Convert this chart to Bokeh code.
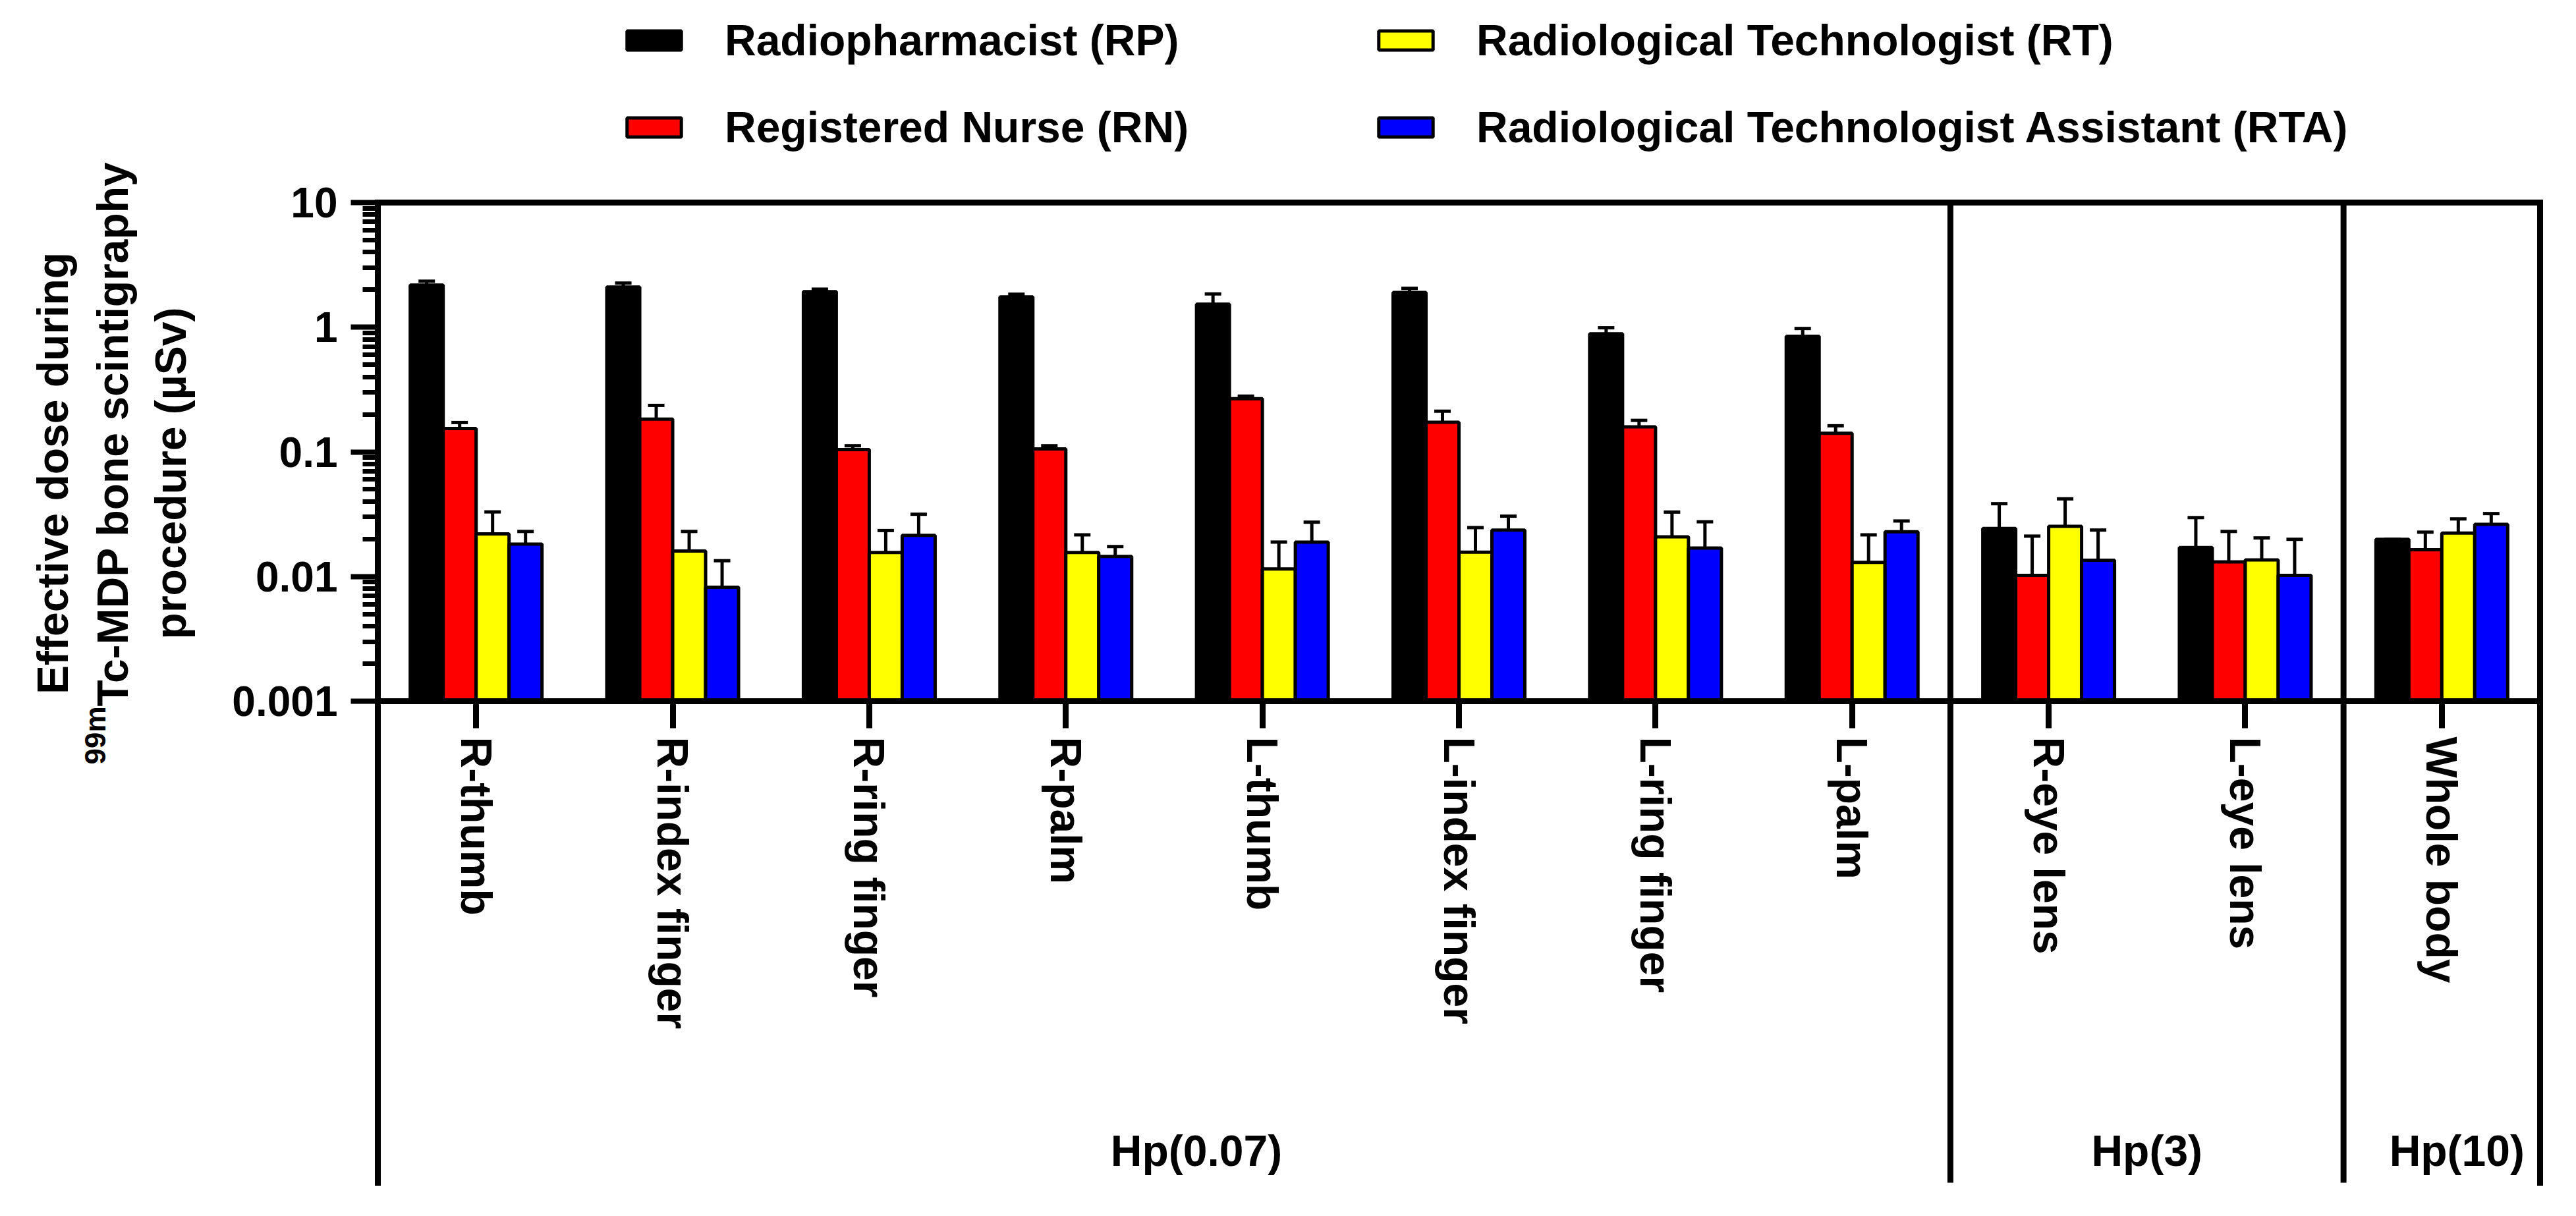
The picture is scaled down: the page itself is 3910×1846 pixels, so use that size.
import numpy as np
from bokeh.plotting import figure
from bokeh.models import (ColumnDataSource, Range1d, LinearAxis, LogAxis, FixedTicker,
                          Whisker, TeeHead, Legend, LegendItem, Label)
from bokeh.core.properties import value
from bokeh.transform import dodge
from bokeh.embed import file_html
from bokeh.resources import INLINE

# ---------------- data ----------------
categories = ["R-thumb", "R-index finger", "R-ring finger", "R-palm", "L-thumb",
              "L-index finger", "L-ring finger", "L-palm", "R-eye lens", "L-eye lens",
              "Whole body"]
groups = ["Hp(0.07)", "Hp(3)", "Hp(10)"]
group_sizes = [8, 2, 1]

series_names = ["Radiopharmacist (RP)", "Registered Nurse (RN)",
                "Radiological Technologist (RT)", "Radiological Technologist Assistant (RTA)"]
series_keys = ["rp", "rn", "rt", "rta"]
series_colors = ["#000000", "#FF0000", "#FFFF00", "#0000FF"]

rp     = [2.18, 2.10, 1.93, 1.75, 1.53, 1.90, 0.885, 0.845, 0.0243, 0.0171, 0.0199]
rp_hi  = [2.34, 2.26, 2.02, 1.84, 1.85, 2.05, 0.99, 0.977, 0.0384, 0.0297, 0.0199]
rn     = [0.154, 0.183, 0.1045, 0.1057, 0.267, 0.173, 0.159, 0.141, 0.0102, 0.0131, 0.0164]
rn_hi  = [0.172, 0.236, 0.112, 0.112, 0.28, 0.212, 0.179, 0.162, 0.0211, 0.023, 0.0227]
rt     = [0.022, 0.016, 0.0156, 0.0156, 0.0115, 0.0157, 0.0208, 0.013, 0.0253, 0.0136, 0.0223]
rt_hi  = [0.033, 0.023, 0.0234, 0.0216, 0.0189, 0.0247, 0.0329, 0.0216, 0.042, 0.0204, 0.029]
rta    = [0.0182, 0.0082, 0.0214, 0.0145, 0.0189, 0.0236, 0.0169, 0.0229, 0.0135, 0.0102, 0.0262]
rta_hi = [0.023, 0.0134, 0.0316, 0.0174, 0.0273, 0.0305, 0.0275, 0.0279, 0.0236, 0.0199, 0.032]

y_ticks = [0.001, 0.01, 0.1, 1, 10]
y_tick_labels = ["0.001", "0.01", "0.1", "1", "10"]
y_label_lines = ["Effective dose during", "Tc-MDP bone scintigraphy", "procedure (µSv)"]
y_label_sup = "99m"

# ---------------- layout (page pixels) ----------------
W, H, M = 3894, 1830, 8
PL, PR, PT, PA, PB = 581, 3863, 315, 1072, 1803   # left, right, top, x-axis, bracket bottom
n = len(categories)
cw = (PR - PL) / n
lo_dec, hi_dec = np.log10(y_ticks[0]), np.log10(y_ticks[-1])
dec_px = (PA - PT) / (hi_dec - lo_dec)

def xd(px):
    return (px - PL) / cw

def yd(py):
    return 10 ** (hi_dec - (py - PT) / dec_px)

FONT = "Liberation Sans"
FS = "66px"
LW_FRAME = 9

xc = list(np.arange(n) + 0.5)
src = ColumnDataSource(dict(xc=xc, cat=categories, rp=rp, rp_hi=rp_hi, rn=rn, rn_hi=rn_hi,
                            rt=rt, rt_hi=rt_hi, rta=rta, rta_hi=rta_hi))

p = figure(width=W, height=H, x_range=Range1d(xd(M), xd(M + W)),
           y_range=Range1d(yd(M + H), yd(M)), y_axis_type="log",
           x_axis_location=None, y_axis_location=None,
           output_backend="svg", toolbar_location=None, min_border=0)
p.outline_line_color = None
p.grid.visible = False
p.background_fill_color = "white"
p.border_fill_color = "white"

y_bottom_line = yd(PB)

# bars + error bars
bw = 50 / cw
offsets = [(i - 1.5) * bw for i in range(4)]
renderers = []
for key, col, off in zip(series_keys, series_colors, offsets):
    r = p.vbar(x=dodge("xc", off), top=key, bottom=y_ticks[0], width=bw,
               source=src, fill_color=col, line_color="black", line_width=5)
    renderers.append(r)
    p.add_layout(Whisker(source=src, base=dodge("xc", off), lower=key, upper=key + "_hi",
                         dimension="height", line_color="black", line_width=5,
                         upper_head=TeeHead(size=25, line_width=5, line_color="black"),
                         lower_head=None))

# group separators
bounds = np.cumsum(group_sizes).astype(float)
p.segment(x0=list(bounds[:-1]), x1=list(bounds[:-1]), y0=y_bottom_line, y1=y_ticks[-1],
          line_color="black", line_width=LW_FRAME)

# y axis at the left edge of the chart
ya = LogAxis(fixed_location=0.0, bounds=(y_bottom_line, y_ticks[-1]))
ya.ticker = FixedTicker(ticks=y_ticks,
                        minor_ticks=[m * 10.0 ** e for e in range(-3, 1) for m in range(2, 10)])
ya.major_label_overrides = dict(zip(y_ticks, y_tick_labels))
ya.axis_line_width = LW_FRAME
ya.axis_line_cap = "square"
ya.major_tick_line_width = 8
ya.minor_tick_line_width = 7
ya.major_tick_out = 41
ya.major_tick_in = 0
ya.minor_tick_out = 23
ya.minor_tick_in = 0
ya.major_label_standoff = 20
ya.major_label_text_font = FONT
ya.major_label_text_font_style = "bold"
ya.major_label_text_font_size = "64px"
ya.major_label_text_color = "black"
p.add_layout(ya, "left")

# x axis at y = 0.001
xa = LinearAxis(fixed_location=y_ticks[0], bounds=(0, n))
xa.ticker = FixedTicker(ticks=xc, minor_ticks=[])
xa.major_label_overrides = dict(zip(xc, categories))
xa.axis_line_width = LW_FRAME
xa.major_tick_line_width = 9
xa.major_tick_out = 41
xa.major_tick_in = 0
xa.minor_tick_line_color = None
xa.major_label_orientation = "vertical"
xa.major_label_standoff = 13
xa.major_label_text_font = FONT
xa.major_label_text_font_style = "bold"
xa.major_label_text_font_size = FS
xa.major_label_text_color = "black"
p.add_layout(xa, "below")

# top and right frame lines
ta = LinearAxis(fixed_location=y_ticks[-1], bounds=(0, n), ticker=FixedTicker(ticks=[]),
                major_tick_line_color=None, minor_tick_line_color=None,
                axis_line_width=LW_FRAME, axis_line_cap="square")
p.add_layout(ta, "above")
ra = LogAxis(fixed_location=float(n), bounds=(y_bottom_line, y_ticks[-1]),
             ticker=FixedTicker(ticks=[]), major_tick_line_color=None,
             minor_tick_line_color=None, axis_line_width=LW_FRAME, axis_line_cap="square")
p.add_layout(ra, "right")

# group labels
starts = np.concatenate([[0.0], bounds[:-1]])
centers = list(starts + np.array(group_sizes) / 2.0)
group_dx = [49, 0, 23]
gsrc = ColumnDataSource(dict(x=centers, y=[yd(1754)] * len(groups), text=groups, dx=group_dx))
p.text(x="x", y="y", text="text", x_offset="dx", source=gsrc, text_align="center",
       text_baseline="alphabetic", text_font=value(FONT), text_font_style="bold",
       text_font_size=FS, text_color="black")

# y axis title (three lines, the second one with a superscript)
def sx(px):
    return px - M

def sy(py):
    return (M + H) - py

common = dict(x_units="screen", y_units="screen", angle=np.pi / 2, text_baseline="alphabetic",
              text_font=FONT, text_font_style="bold", text_color="black")
p.add_layout(Label(x=sx(87), y=sy(726), text=y_label_lines[0], text_align="center",
                   text_font_size=FS, **common))
p.add_layout(Label(x=sx(178), y=sy(1080), text=y_label_lines[1], text_align="left",
                   text_font_size=FS, **common))
p.add_layout(Label(x=sx(152), y=sy(1080), text=y_label_sup, text_align="right",
                   text_font_size="44px", **common))
p.add_layout(Label(x=sx(266), y=sy(726), text=y_label_lines[2], text_align="center",
                   text_font_size=FS, **common))

# legends (two columns)
def make_legend(idx, px):
    leg = Legend(items=[LegendItem(label=series_names[i], renderers=[renderers[i]]) for i in idx],
                 location=(sx(px), sy(241)), orientation="vertical",
                 glyph_width=103, glyph_height=36, label_standoff=56, label_height=80,
                 spacing=52, padding=0, margin=0, border_line_color=None,
                 background_fill_alpha=0, label_text_font=FONT, label_text_font_style="bold",
                 label_text_font_size=FS, label_text_color="black")
    p.add_layout(leg)

make_legend([0, 1], 949)
make_legend([2, 3], 2090)

open("out.html", "w").write(file_html(p, INLINE))
